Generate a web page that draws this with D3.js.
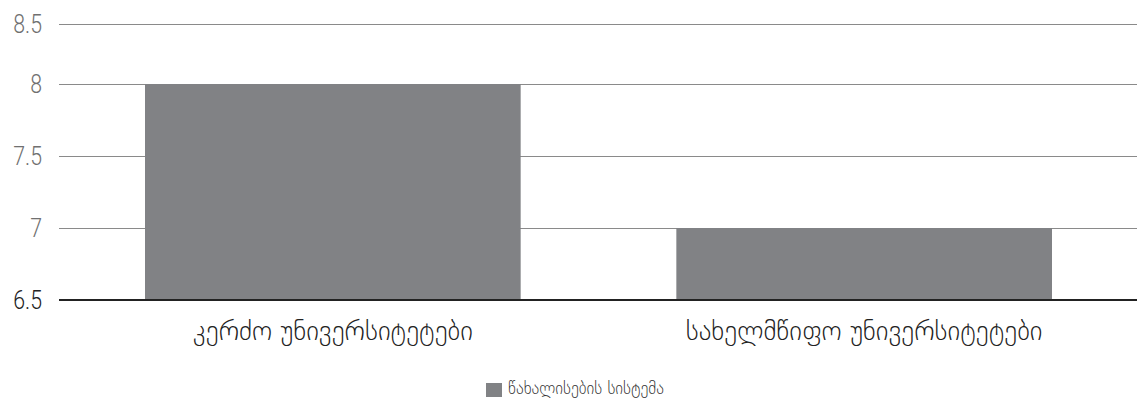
<!DOCTYPE html>
<html>
<head>
<meta charset="utf-8">
<script src="https://cdn.jsdelivr.net/npm/d3@7"></script>
<style>
  html, body { margin: 0; padding: 0; background: #fff; }
  svg { display: block; }
</style>
</head>
<body>
<svg id="chart" width="1137" height="398"></svg>
<script>
// Data
const categories = ["კერძო უნივერსიტეტები", "სახელმწიფო უნივერსიტეტები"];
const seriesName = "წახალისების სისტემა";
const seriesValues = [8, 7];
const yTicks = [6.5, 7, 7.5, 8, 8.5];
const yTickLabels = ["6.5", "7", "7.5", "8", "8.5"];

const svg = d3.select("#chart");
const barColor = "#818285";
const georgianFont = "'DejaVu Sans', 'Noto Sans', sans-serif";

const x = d3.scaleBand()
  .domain(categories)
  .range([60, 1137])
  .paddingInner(0.293)
  .paddingOuter(0.16);

// Value axis: the upper segment is compressed
const y = d3.scaleLinear()
  .domain([6.5, 8, 8.5])
  .range([300, 84, 23.5]);

// Gridlines
svg.append("g")
  .selectAll("line")
  .data(yTicks.filter(t => t !== 6.5))
  .join("line")
  .attr("x1", 59).attr("x2", 1137)
  .attr("y1", d => Math.round(y(d)) + 0.5)
  .attr("y2", d => Math.round(y(d)) + 0.5)
  .attr("stroke", "#8a8a8a")
  .attr("stroke-width", 1);

// Bars
svg.append("g")
  .selectAll("rect")
  .data(seriesValues)
  .join("rect")
  .attr("x", (d, i) => x(categories[i]))
  .attr("width", x.bandwidth())
  .attr("y", d => y(d))
  .attr("height", d => y(6.5) - y(d))
  .attr("fill", barColor);

// Baseline
svg.append("line")
  .attr("x1", 59).attr("x2", 1137)
  .attr("y1", y(6.5)).attr("y2", y(6.5))
  .attr("stroke", "#222")
  .attr("stroke-width", 2);

// Y tick labels (light, narrowed)
svg.append("g")
  .selectAll("text")
  .data(yTicks)
  .join("text")
  .attr("transform", d => `translate(42,${y(d)}) scale(0.82,1)`)
  .attr("dy", "0.36em")
  .attr("text-anchor", "end")
  .attr("font-family", "Roboto, sans-serif")
  .attr("font-weight", 300)
  .attr("font-size", 26)
  .attr("fill", d => d === 6.5 ? "#222" : "#707070")
  .text((d, i) => yTickLabels[i]);

// Category labels
svg.append("g")
  .selectAll("text")
  .data(categories)
  .join("text")
  .attr("x", d => x(d) + x.bandwidth() / 2)
  .attr("y", 340)
  .attr("text-anchor", "middle")
  .attr("font-family", georgianFont)
  .attr("font-weight", 200)
  .attr("font-size", 27)
  .attr("fill", "#222")
  .text(d => d);

// Legend
const legend = svg.append("g");
legend.append("rect")
  .attr("x", 486).attr("y", 383)
  .attr("width", 16).attr("height", 14)
  .attr("fill", barColor);
legend.append("text")
  .attr("x", 508).attr("y", 394)
  .attr("font-family", georgianFont)
  .attr("font-weight", 200)
  .attr("font-size", 16.5)
  .attr("fill", "#333")
  .text(seriesName);
</script>
</body>
</html>
